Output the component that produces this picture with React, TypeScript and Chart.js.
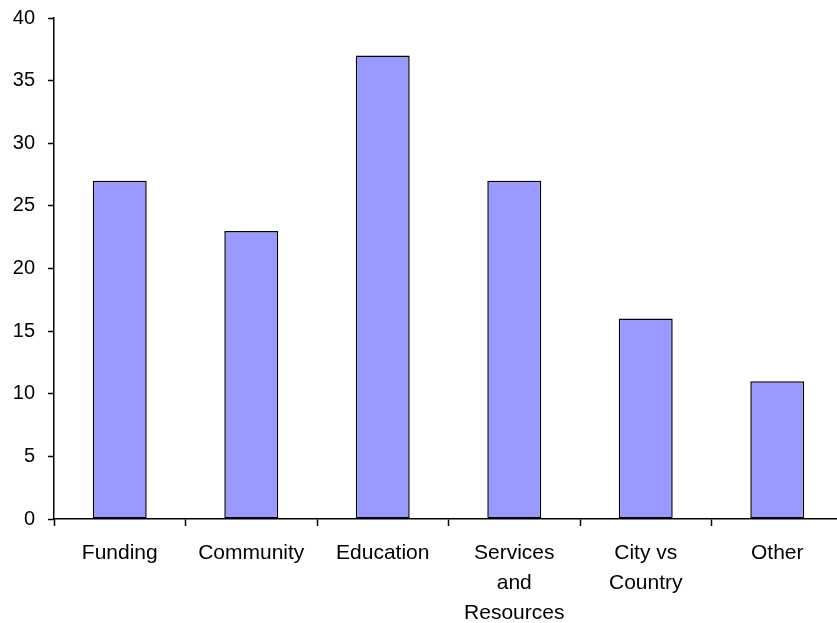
import React, { useEffect, useRef } from "react";
import { Chart, registerables } from "chart.js";

Chart.register(...registerables);

const categories: (string | string[])[] = [
  "Funding",
  "Community",
  "Education",
  ["Services", "and", "Resources"],
  ["City vs", "Country"],
  "Other",
];
const seriesValues: number[] = [27, 23, 37, 27, 16, 11];
const yMin = 0;
const yMax = 40;
const yStep = 5;

export default function App() {
  const ref = useRef<HTMLCanvasElement | null>(null);

  useEffect(() => {
    if (!ref.current) return;
    const xFont = { family: "'Liberation Sans', Arial, sans-serif", size: 21, lineHeight: 1.43 };
    const yFont = { family: "'Liberation Sans', Arial, sans-serif", size: 20, lineHeight: 1.2 };
    const chart = new Chart(ref.current, {
      type: "bar",
      data: {
        labels: categories,
        datasets: [
          {
            data: seriesValues,
            backgroundColor: "#9999FF",
            borderColor: "#000000",
            borderWidth: 1.5,
            borderSkipped: false,
            categoryPercentage: 1,
            barPercentage: 0.41,
          },
        ],
      },
      options: {
        responsive: false,
        animation: false,
        layout: { padding: { top: 18, right: 7, left: 0, bottom: 0 } },
        plugins: { legend: { display: false }, tooltip: { enabled: false } },
        scales: {
          x: {
            grid: {
              display: true,
              drawOnChartArea: false,
              drawTicks: true,
              tickLength: 7,
              tickWidth: 1.5,
              color: "#000000",
              offset: true,
            },
            border: { display: true, color: "#000000", width: 1.5 },
            ticks: { color: "#000000", font: xFont, padding: 12, maxRotation: 0, autoSkip: false },
            afterFit: (s: any) => {
              s.height = 104;
              s.paddingLeft = 0;
              s.paddingRight = 0;
            },
          },
          y: {
            min: yMin,
            max: yMax,
            grid: {
              display: true,
              drawOnChartArea: false,
              drawTicks: true,
              tickLength: 6,
              tickWidth: 1.5,
              color: "#000000",
            },
            border: { display: true, color: "#000000", width: 1.5 },
            ticks: { stepSize: yStep, color: "#000000", font: yFont, padding: 13 },
            afterFit: (s: any) => {
              s.width = 54;
              s.paddingTop = 0;
              s.paddingBottom = 0;
            },
          },
        },
      },
    });
    return () => chart.destroy();
  }, []);

  return (
    <div
      style={{
        position: "absolute",
        left: 0,
        top: 0,
        width: 837,
        height: 623,
        overflow: "hidden",
        background: "#ffffff",
      }}
    >
      <canvas ref={ref} width={850} height={623} style={{ width: 850, height: 623, display: "block" }} />
    </div>
  );
}
